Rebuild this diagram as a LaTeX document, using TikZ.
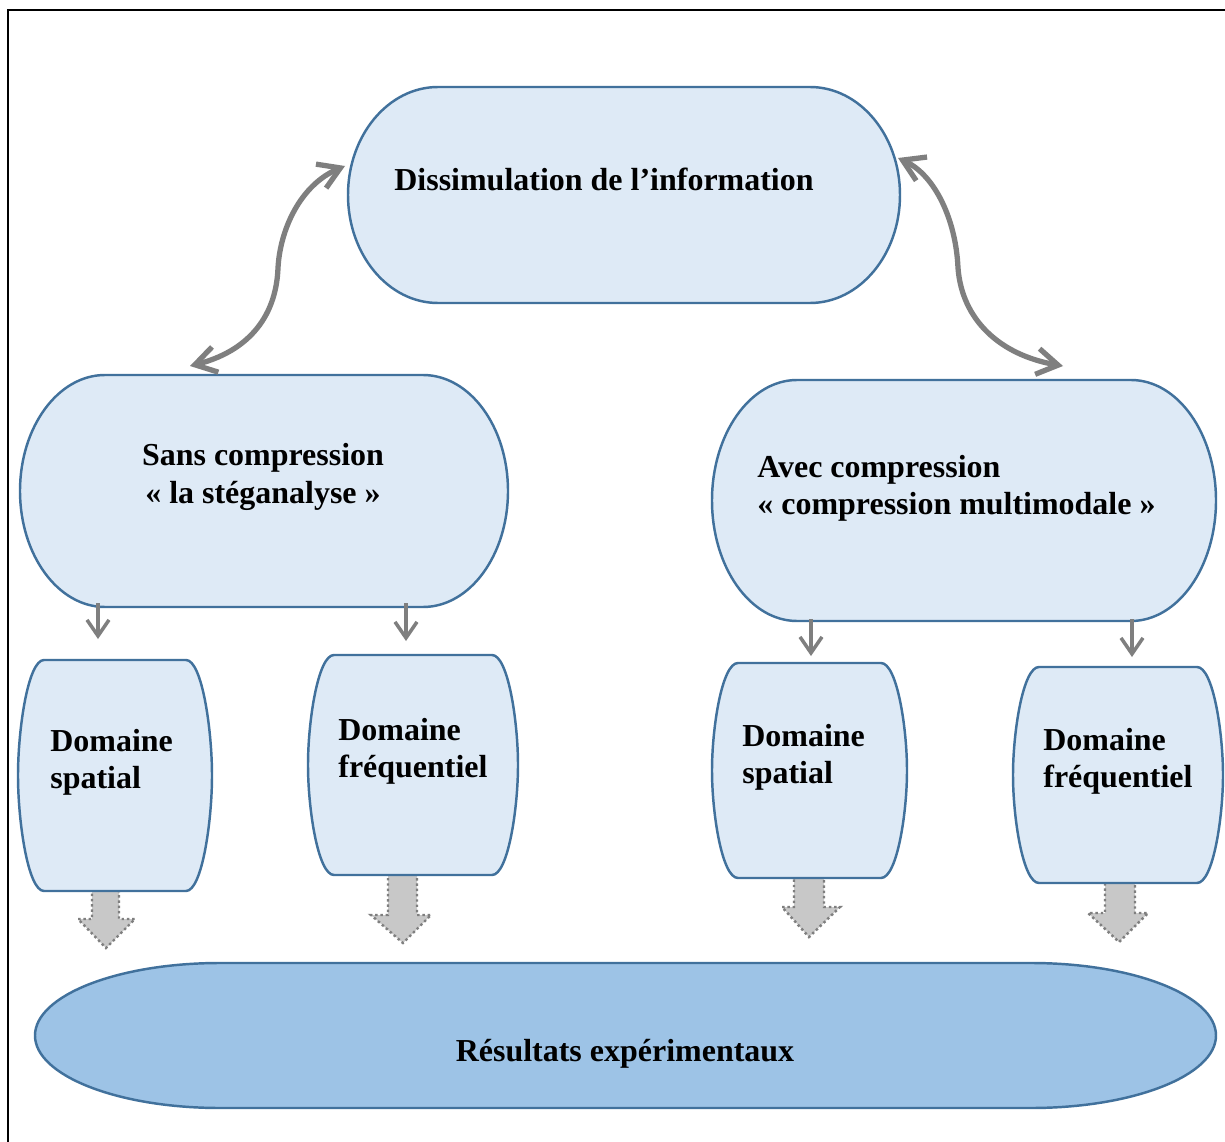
\documentclass[tikz,border=0pt]{standalone}
\usepackage{fontspec}
\setmainfont{Liberation Serif}
\usetikzlibrary{arrows.meta}
\definecolor{boxfill}{HTML}{DEEAF6}
\definecolor{boxline}{HTML}{41719C}
\definecolor{resfill}{HTML}{9DC3E6}
\definecolor{arrgray}{HTML}{7F7F7F}
\definecolor{blockfill}{HTML}{C8C8C8}
% capsule: [style]{x1}{y1}{x2}{y2}{rx}
\newcommand{\mycapsule}[6][]{%
  \path[#1] ({#2+#6},#3) -- ({#4-#6},#3)
    .. controls ({#4-#6+0.5523*#6},#3) and (#4,{(#3+#5)/2-0.5523*(#5-#3)/2}) .. (#4,{(#3+#5)/2})
    .. controls (#4,{(#3+#5)/2+0.5523*(#5-#3)/2}) and ({#4-#6+0.5523*#6},#5) .. ({#4-#6},#5)
    -- ({#2+#6},#5)
    .. controls ({#2+#6-0.5523*#6},#5) and (#2,{(#3+#5)/2+0.5523*(#5-#3)/2}) .. (#2,{(#3+#5)/2})
    .. controls (#2,{(#3+#5)/2-0.5523*(#5-#3)/2}) and ({#2+#6-0.5523*#6},#3) .. cycle;}
% barrel: [style]{x1}{y1}{x2}{y2}{dx}
\newcommand{\mybarrel}[6][]{%
  \path[#1] ({#2+#6},#3) -- ({#4-#6},#3)
    .. controls ({#4-10},#3) and (#4,{#3+0.3*(#5-#3)}) .. (#4,{(#3+#5)/2})
    .. controls (#4,{#5-0.3*(#5-#3)}) and ({#4-10},#5) .. ({#4-#6},#5)
    -- ({#2+#6},#5)
    .. controls ({#2+10},#5) and (#2,{#5-0.3*(#5-#3)}) .. (#2,{(#3+#5)/2})
    .. controls (#2,{#3+0.3*(#5-#3)}) and ({#2+10},#3) .. cycle;}
% block arrow: {sx1}{sx2}{top}{hy}{hx1}{hx2}{tipx}{tipy}
\newcommand{\myblock}[8]{%
  \path[blockarrow] (#1,#3) -- (#2,#3) -- (#2,#4) -- (#6,#4) -- (#7,#8) -- (#5,#4) -- (#1,#4) -- cycle;}
\begin{document}
\begin{tikzpicture}[x=0.02cm,y=-0.02cm,
  shapebox/.style={fill=boxfill, draw=boxline, line width=1.4pt},
  resbox/.style={fill=resfill, draw=boxline, line width=1.4pt},
  lbl/.style={font=\bfseries\fontsize{18.2}{21.2}\selectfont, inner sep=0pt},
  curvearrow/.style={draw=arrgray, line width=3pt,
    {Straight Barb[length=0.42cm,width=0.52cm]}-{Straight Barb[length=0.42cm,width=0.52cm]}},
  smallarrow/.style={draw=arrgray, line width=2pt, -{Straight Barb[length=0.32cm,width=0.44cm]}},
  blockarrow/.style={fill=blockfill, draw=arrgray, line width=1.4pt, dash pattern=on 1.4pt off 1.6pt}]
\useasboundingbox (0,0) rectangle (1225,1142);
\fill[white] (0,0) rectangle (1225,1142);
\clip (0,0) rectangle (1225,1142);
% frame
\draw[black, line width=1.1pt] (8,1150) -- (8,10) -- (1235,10);

% block arrows (under the boxes)
\myblock{92}{119}{880}{919}{78}{135}{106}{948}
\myblock{388}{417}{865}{915}{371}{431}{403}{943}
\myblock{794}{824}{868}{907}{782}{840}{809}{937}
\myblock{1105}{1135}{873}{913}{1088}{1148}{1119}{942}

% shapes
\mycapsule[shapebox]{348}{87}{900}{303}{90}
\mycapsule[shapebox]{20}{375}{508}{607}{85}
\mycapsule[shapebox]{712}{380}{1216}{621}{85}
\mybarrel[shapebox]{18}{660}{212}{891}{26}
\mybarrel[shapebox]{308}{655}{518}{875}{26}
\mybarrel[shapebox]{712}{663}{907}{878}{26}
\mybarrel[shapebox]{1013}{667}{1223}{883}{26}
\mycapsule[resbox]{35}{963}{1216}{1108}{185}

% texts
\node[lbl] (tT) at (604,179) {Dissimulation de l’information};
\node[lbl, align=center] (tL) at (263,477) {Sans compression\\« la stéganalyse »};
\node[lbl, align=left, anchor=west] (tR) at (757,488) {Avec compression\\« compression multimodale »};
\node[lbl, align=left, anchor=west] (tB1) at (50,762) {Domaine\\spatial};
\node[lbl, align=left, anchor=west] (tB2) at (338,751) {Domaine\\fréquentiel};
\node[lbl, align=left, anchor=west] (tB3) at (742,757) {Domaine\\spatial};
\node[lbl, align=left, anchor=west] (tB4) at (1043,761) {Domaine\\fréquentiel};
\node[lbl] (tE) at (625,1054) {Résultats expérimentaux};

% connector end points
\coordinate (cTl) at (345,166);
\coordinate (cLt) at (190,366);
\coordinate (cTr) at (898,158);
\coordinate (cRt) at (1063,366);
\coordinate (a1s) at (98,603);  \coordinate (a1e) at (98,639);
\coordinate (a2s) at (406,603); \coordinate (a2e) at (406,641);
\coordinate (a3s) at (811,619); \coordinate (a3e) at (811,656);
\coordinate (a4s) at (1132,619); \coordinate (a4e) at (1132,657);

% curved double arrows
\draw[curvearrow] (cTl) .. controls (300,185) and (280,230) .. (278,268)
  .. controls (276,320) and (245,352) .. (cLt);
\draw[curvearrow] (cTr) .. controls (935,175) and (956,220) .. (958,268)
  .. controls (962,320) and (1000,355) .. (cRt);

% small arrows
\draw[smallarrow] (a1s) -- (a1e);
\draw[smallarrow] (a2s) -- (a2e);
\draw[smallarrow] (a3s) -- (a3e);
\draw[smallarrow] (a4s) -- (a4e);
\end{tikzpicture}
\end{document}
